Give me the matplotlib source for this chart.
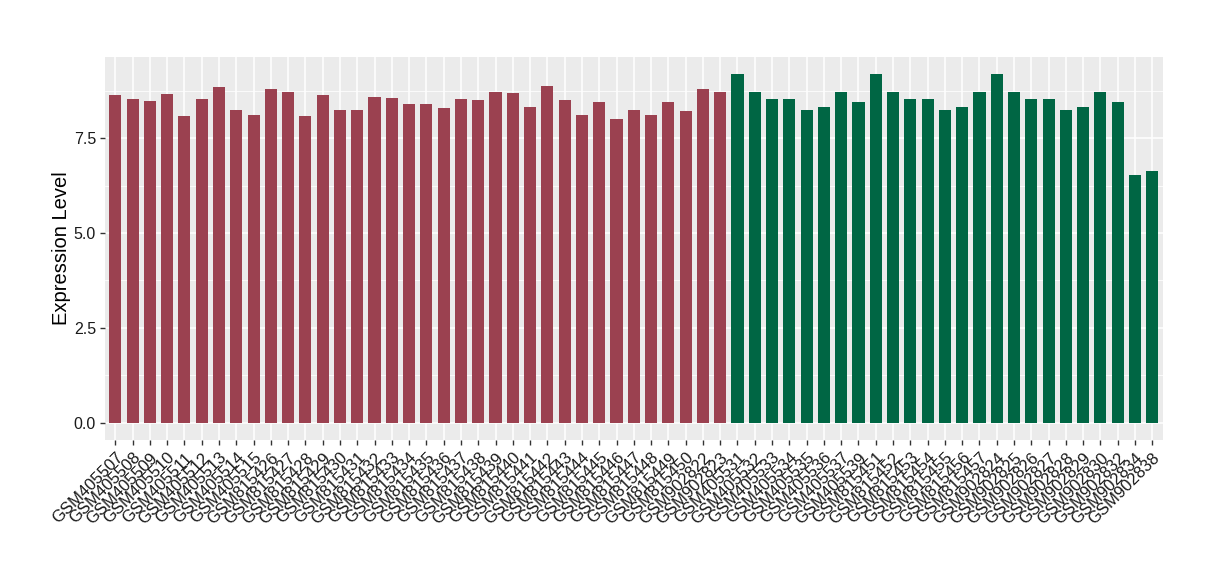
import matplotlib.pyplot as plt
import numpy as np

plt.rcParams['font.family'] = ['Liberation Sans', 'DejaVu Sans']

# sample names, split into the two groups
samples_red = ['GSM405507', 'GSM405508', 'GSM405509', 'GSM405510', 'GSM405511',
               'GSM405512', 'GSM405513', 'GSM405514', 'GSM405515',
               'GSM815426', 'GSM815427', 'GSM815428', 'GSM815429', 'GSM815430',
               'GSM815431', 'GSM815432', 'GSM815433', 'GSM815434', 'GSM815435',
               'GSM815436', 'GSM815437', 'GSM815438', 'GSM815439', 'GSM815440',
               'GSM815441', 'GSM815442', 'GSM815443', 'GSM815444', 'GSM815445',
               'GSM815446', 'GSM815447', 'GSM815448', 'GSM815449', 'GSM815450',
               'GSM902822', 'GSM902823']
samples_green = ['GSM405531', 'GSM405532', 'GSM405533', 'GSM405534', 'GSM405535',
                 'GSM405536', 'GSM405537', 'GSM405539',
                 'GSM815451', 'GSM815452', 'GSM815453', 'GSM815454', 'GSM815455',
                 'GSM815456', 'GSM815457',
                 'GSM902824', 'GSM902825', 'GSM902826', 'GSM902827', 'GSM902828',
                 'GSM902829', 'GSM902830', 'GSM902832', 'GSM902834', 'GSM902838']

expr_red = [8.63, 8.52, 8.47, 8.65, 8.09, 8.52, 8.84, 8.23, 8.12,
            8.79, 8.71, 8.09, 8.63, 8.23, 8.25, 8.57, 8.55, 8.41, 8.41,
            8.28, 8.52, 8.49, 8.71, 8.68, 8.33, 8.87, 8.49, 8.12, 8.44,
            7.99, 8.25, 8.12, 8.46, 8.20, 8.78, 8.70]
expr_green = [9.18, 8.70, 8.54, 8.52, 8.23, 8.31, 8.70, 8.46,
              9.18, 8.70, 8.54, 8.52, 8.23, 8.31, 8.70,
              9.18, 8.70, 8.54, 8.52, 8.23, 8.31, 8.70, 8.46, 6.53, 6.63]

labels = samples_red + samples_green
x_red = np.arange(len(samples_red))
x_green = np.arange(len(samples_red), len(labels))

fig = plt.figure(figsize=(12.2, 5.8), dpi=100)
ax = fig.add_axes([0.086, 0.241, 0.867, 0.661])
ax.set_facecolor('#EBEBEB')

ax.bar(x_red, expr_red, width=0.7, color='#9B4150', zorder=3)
ax.bar(x_green, expr_green, width=0.7, color='#006644', zorder=3)

ymax = max(expr_red + expr_green)
pad = ymax * 0.05
ax.set_ylim(-pad, ymax + pad)
ax.set_xlim(-0.6, len(labels) - 0.4)

ax.set_yticks([0, 2.5, 5.0, 7.5])
ax.set_yticklabels(['0.0', '2.5', '5.0', '7.5'])
ax.set_yticks([1.25, 3.75, 6.25, 8.75], minor=True)
ax.set_xticks(np.arange(len(labels)))
ax.set_xticklabels(labels, rotation=45, ha='right', va='top',
                   rotation_mode='anchor', fontsize=12)

# ggplot-like grid
ax.grid(which='major', color='white', linewidth=1.1, zorder=0)
ax.grid(which='minor', axis='y', color='white', linewidth=0.55, zorder=0)
ax.set_axisbelow(True)

for s in ax.spines.values():
    s.set_visible(False)

ax.tick_params(which='major', length=3.5, width=1, color='#333333',
               labelsize=11.5, labelcolor='#1a1a1a')
ax.tick_params(axis='x', labelsize=12)
ax.tick_params(axis='y', pad=3)
ax.tick_params(which='minor', length=0)

ax.set_ylabel('Expression Level', fontsize=14.5, labelpad=2)

plt.savefig('out.png', dpi=100)
